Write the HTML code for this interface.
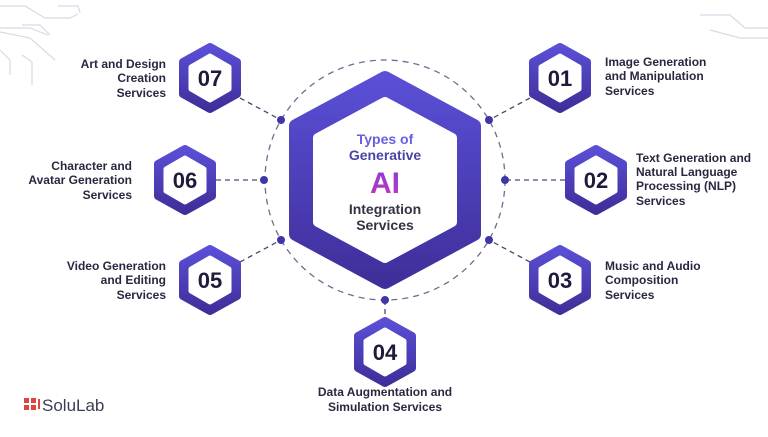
<!DOCTYPE html>
<html><head><meta charset="utf-8"><style>
body{margin:0;width:768px;height:432px;background:#fff;overflow:hidden;font-family:"Liberation Sans",sans-serif}
</style></head><body>
<svg width="768" height="432" viewBox="0 0 768 432" xmlns="http://www.w3.org/2000/svg">
<defs>
<linearGradient id="g" x1="0" y1="0" x2="0" y2="1"><stop offset="0" stop-color="#5a4fd6"/><stop offset="1" stop-color="#3f2f9a"/></linearGradient>
<linearGradient id="ai" x1="0" y1="0" x2="0" y2="1"><stop offset="0" stop-color="#8a3ad8"/><stop offset="1" stop-color="#c03ab8"/></linearGradient>
</defs>
<g stroke="#d6dbe6" stroke-width="1.2" fill="none">
<path d="M0 6 L25 6 L45 18 L70 18 L78 14"/><path d="M58 6 L78 6 L80 13"/>
<path d="M0 28 L30 28 L48 35"/><path d="M22 25 L40 25 L50 35"/>
<path d="M0 32 L30 38 L55 60"/><path d="M0 50 L10 60 L10 75"/><path d="M22 55 L32 62 L32 85"/>
<path d="M700 15 L730 15 L745 28 L768 28"/><path d="M710 30 L740 38 L768 38"/>
</g>
<circle cx="385" cy="180" r="120" fill="none" stroke="#6c6f8e" stroke-width="1.3" stroke-dasharray="6 5"/>
<g stroke="#4a4c72" stroke-width="1.3" stroke-dasharray="5 4">
<line x1="240" y1="98" x2="281" y2="120"/><line x1="216" y1="180" x2="264" y2="180"/><line x1="240" y1="262" x2="281" y2="240"/>
<line x1="530" y1="98" x2="489" y2="120"/><line x1="565" y1="180" x2="505" y2="180"/><line x1="530" y1="262" x2="489" y2="240"/>
<line x1="385" y1="300" x2="385" y2="318"/>
</g>
<g fill="#3e36a8">
<circle cx="281" cy="120" r="4"/><circle cx="489" cy="120" r="4"/><circle cx="264" cy="180" r="4"/><circle cx="505" cy="180" r="4"/><circle cx="281" cy="240" r="4"/><circle cx="489" cy="240" r="4"/><circle cx="385" cy="300" r="4"/>
</g>
<polygon points="385,78 474,126 474,234 385,282 296,234 296,126" fill="url(#g)" stroke="url(#g)" stroke-width="14" stroke-linejoin="round"/>
<polygon points="385,102 452,138 452,222 385,258 318,222 318,138" fill="#fff" stroke="#fff" stroke-width="10" stroke-linejoin="round"/>
<g font-weight="bold" font-size="14" text-anchor="middle">
<text x="385" y="144" fill="#6a5ee0">Types of</text>
<text x="385" y="160" fill="#4a44a8">Generative</text>
<text x="385" y="193" font-size="30" fill="url(#ai)">AI</text>
<text x="385" y="214" fill="#333344">Integration</text>
<text x="385" y="230" fill="#333344">Services</text>
</g>
<g id="hexes">
<g transform="translate(210,78)"><polygon points="0,-31 27,-16 27,16 0,31 -27,16 -27,-16" fill="url(#g)" stroke="url(#g)" stroke-width="8" stroke-linejoin="round"/><polygon points="0,-22 19,-11 19,11 0,22 -19,11 -19,-11" fill="#fff" stroke="#fff" stroke-width="5" stroke-linejoin="round"/><text y="8" text-anchor="middle" font-size="22" font-weight="bold" fill="#1e1b3a">07</text></g>
<g transform="translate(185,180)"><polygon points="0,-31 27,-16 27,16 0,31 -27,16 -27,-16" fill="url(#g)" stroke="url(#g)" stroke-width="8" stroke-linejoin="round"/><polygon points="0,-22 19,-11 19,11 0,22 -19,11 -19,-11" fill="#fff" stroke="#fff" stroke-width="5" stroke-linejoin="round"/><text y="8" text-anchor="middle" font-size="22" font-weight="bold" fill="#1e1b3a">06</text></g>
<g transform="translate(210,280)"><polygon points="0,-31 27,-16 27,16 0,31 -27,16 -27,-16" fill="url(#g)" stroke="url(#g)" stroke-width="8" stroke-linejoin="round"/><polygon points="0,-22 19,-11 19,11 0,22 -19,11 -19,-11" fill="#fff" stroke="#fff" stroke-width="5" stroke-linejoin="round"/><text y="8" text-anchor="middle" font-size="22" font-weight="bold" fill="#1e1b3a">05</text></g>
<g transform="translate(560,78)"><polygon points="0,-31 27,-16 27,16 0,31 -27,16 -27,-16" fill="url(#g)" stroke="url(#g)" stroke-width="8" stroke-linejoin="round"/><polygon points="0,-22 19,-11 19,11 0,22 -19,11 -19,-11" fill="#fff" stroke="#fff" stroke-width="5" stroke-linejoin="round"/><text y="8" text-anchor="middle" font-size="22" font-weight="bold" fill="#1e1b3a">01</text></g>
<g transform="translate(596,180)"><polygon points="0,-31 27,-16 27,16 0,31 -27,16 -27,-16" fill="url(#g)" stroke="url(#g)" stroke-width="8" stroke-linejoin="round"/><polygon points="0,-22 19,-11 19,11 0,22 -19,11 -19,-11" fill="#fff" stroke="#fff" stroke-width="5" stroke-linejoin="round"/><text y="8" text-anchor="middle" font-size="22" font-weight="bold" fill="#1e1b3a">02</text></g>
<g transform="translate(560,280)"><polygon points="0,-31 27,-16 27,16 0,31 -27,16 -27,-16" fill="url(#g)" stroke="url(#g)" stroke-width="8" stroke-linejoin="round"/><polygon points="0,-22 19,-11 19,11 0,22 -19,11 -19,-11" fill="#fff" stroke="#fff" stroke-width="5" stroke-linejoin="round"/><text y="8" text-anchor="middle" font-size="22" font-weight="bold" fill="#1e1b3a">03</text></g>
<g transform="translate(385,352)"><polygon points="0,-31 27,-16 27,16 0,31 -27,16 -27,-16" fill="url(#g)" stroke="url(#g)" stroke-width="8" stroke-linejoin="round"/><polygon points="0,-22 19,-11 19,11 0,22 -19,11 -19,-11" fill="#fff" stroke="#fff" stroke-width="5" stroke-linejoin="round"/><text y="8" text-anchor="middle" font-size="22" font-weight="bold" fill="#1e1b3a">04</text></g>
</g>
<g font-size="12" font-weight="bold" fill="#2a2840">
<g text-anchor="end">
<text x="166" y="68">Art and Design</text><text x="166" y="82">Creation</text><text x="166" y="97">Services</text>
<text x="132" y="170">Character and</text><text x="132" y="184">Avatar Generation</text><text x="132" y="199">Services</text>
<text x="166" y="270">Video Generation</text><text x="166" y="284">and Editing</text><text x="166" y="299">Services</text>
</g>
<text x="605" y="66">Image Generation</text><text x="605" y="80">and Manipulation</text><text x="605" y="95">Services</text>
<text x="636" y="162">Text Generation and</text><text x="636" y="176">Natural Language</text><text x="636" y="190">Processing (NLP)</text><text x="636" y="205">Services</text>
<text x="605" y="270">Music and Audio</text><text x="605" y="284">Composition</text><text x="605" y="299">Services</text>
<g text-anchor="middle"><text x="385" y="396">Data Augmentation and</text><text x="385" y="411">Simulation Services</text></g>
</g>
<g fill="#e0443c"><rect x="24" y="398" width="5" height="5"/><rect x="31" y="398" width="5" height="5"/><rect x="24" y="405" width="5" height="5"/><rect x="31" y="405" width="5" height="5"/><rect x="38" y="399" width="2" height="10"/></g>
<text x="42" y="411" font-size="17" fill="#3a3f55">SoluLab</text>
</svg>
</body></html>
